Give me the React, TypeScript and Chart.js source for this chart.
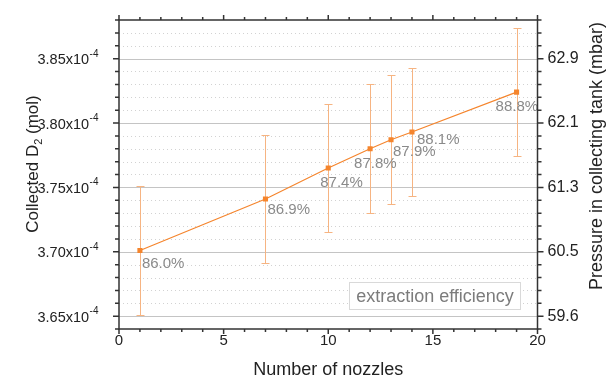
import React, { useEffect, useRef } from 'react';
import { Chart, registerables } from 'chart.js';

Chart.register(...registerables);

// ---------- data ----------
const nozzles = [1, 7, 10, 12, 13, 14, 19];
const collectedD2 = [3.701e-4, 3.741e-4, 3.765e-4, 3.78e-4, 3.787e-4, 3.793e-4, 3.824e-4];
const collectedErr = [5e-6, 5e-6, 5e-6, 5e-6, 5e-6, 5e-6, 5e-6];
const efficiency = ['86.0%', '86.9%', '87.4%', '87.8%', '87.9%', '88.1%', '88.8%'];

// ---------- axes ----------
const xTicks = [0, 5, 10, 15, 20];
const yTicks = [3.65e-4, 3.7e-4, 3.75e-4, 3.8e-4, 3.85e-4];
const yTickMantissa = ['3.65', '3.70', '3.75', '3.80', '3.85'];
const yTickExponent = '-4';
const pressureTicks = ['59.6', '60.5', '61.3', '62.1', '62.9'];
const X_MIN = 0;
const X_MAX = 20;
const Y_MIN = 3.64e-4;
const Y_MAX = 3.88e-4;
const X_MINOR = 1;
const Y_MINOR = 1e-6;

// label offsets (style only)
const labelOffsets: [number, number][] = [
  [2, 13], [2, 11], [-8, 15], [-16, 15], [2, 12], [5, 8], [-21, 15],
];

const FONT = '"Liberation Sans", Arial, sans-serif';
const ORANGE = '#f5852d';
const ERR_COLOR = '#f6b482';

const decorPlugin = {
  id: 'decor',
  beforeDatasetsDraw(chart: any) {
    const { ctx, chartArea: a, scales } = chart;
    const y = scales.y;
    const x = scales.x;
    ctx.save();
    // grid lines
    const nY = Math.round((Y_MAX - Y_MIN) / Y_MINOR);
    for (let i = 1; i < nY; i++) {
      const v = Y_MIN + i * Y_MINOR;
      const py = Math.round(y.getPixelForValue(v)) + 0.5;
      const major = yTicks.some((t) => Math.abs(t - v) < Y_MINOR / 10);
      ctx.beginPath();
      if (major) {
        ctx.setLineDash([]);
        ctx.strokeStyle = '#c4c4c4';
        ctx.lineWidth = 1;
      } else {
        ctx.setLineDash([1, 3]);
        ctx.strokeStyle = '#d2d2d2';
        ctx.lineWidth = 1;
      }
      ctx.moveTo(a.left, py);
      ctx.lineTo(a.right, py);
      ctx.stroke();
    }
    ctx.setLineDash([]);
    // error bars
    ctx.strokeStyle = ERR_COLOR;
    ctx.lineWidth = 1;
    nozzles.forEach((n, i) => {
      const px = Math.round(x.getPixelForValue(n)) + 0.5;
      const top = Math.round(y.getPixelForValue(collectedD2[i] + collectedErr[i])) + 0.5;
      const bot = Math.round(y.getPixelForValue(collectedD2[i] - collectedErr[i])) + 0.5;
      ctx.beginPath();
      ctx.moveTo(px, top);
      ctx.lineTo(px, bot);
      ctx.moveTo(px - 4, top);
      ctx.lineTo(px + 4, top);
      ctx.moveTo(px - 4, bot);
      ctx.lineTo(px + 4, bot);
      ctx.stroke();
    });
    ctx.restore();
  },
  afterDatasetsDraw(chart: any) {
    const { ctx, chartArea: a, scales } = chart;
    const y = scales.y;
    const x = scales.x;
    ctx.save();
    // data labels
    ctx.font = `15px ${FONT}`;
    ctx.fillStyle = '#8a8a8a';
    ctx.textAlign = 'left';
    ctx.textBaseline = 'middle';
    nozzles.forEach((n, i) => {
      const px = x.getPixelForValue(n);
      const py = y.getPixelForValue(collectedD2[i]);
      ctx.fillText(efficiency[i], px + labelOffsets[i][0], py + labelOffsets[i][1]);
    });

    // legend box
    const lw = 171;
    const lh = 27;
    const lx = Math.round(a.right - 18 - lw) + 0.5;
    const ly = Math.round(a.bottom - 20 - lh) + 0.5;
    ctx.fillStyle = '#ffffff';
    ctx.fillRect(lx, ly, lw, lh);
    ctx.strokeStyle = '#d9d9d9';
    ctx.lineWidth = 1;
    ctx.strokeRect(lx, ly, lw, lh);
    ctx.font = `18px ${FONT}`;
    ctx.fillStyle = '#7c7c7c';
    ctx.textAlign = 'center';
    ctx.textBaseline = 'middle';
    ctx.fillText('extraction efficiency', lx + lw / 2, ly + lh / 2 + 1);

    // frame
    ctx.strokeStyle = '#333333';
    ctx.lineWidth = 1.5;
    ctx.strokeRect(a.left, a.top, a.right - a.left, a.bottom - a.top);
    // x ticks (bottom & top)
    ctx.beginPath();
    const nX = Math.round((X_MAX - X_MIN) / X_MINOR);
    for (let i = 0; i <= nX; i++) {
      const v = X_MIN + i * X_MINOR;
      const px = x.getPixelForValue(v);
      const major = xTicks.includes(v);
      const len = major ? 5 : 3;
      ctx.moveTo(px, a.bottom);
      ctx.lineTo(px, a.bottom + len);
      ctx.moveTo(px, a.top);
      ctx.lineTo(px, a.top - len);
    }
    const nY = Math.round((Y_MAX - Y_MIN) / Y_MINOR);
    for (let i = 0; i <= nY; i++) {
      const v = Y_MIN + i * Y_MINOR;
      const py = y.getPixelForValue(v);
      const major = yTicks.some((t) => Math.abs(t - v) < Y_MINOR / 10);
      const len = major ? 6 : 4;
      ctx.moveTo(a.left, py);
      ctx.lineTo(a.left - len, py);
      ctx.moveTo(a.right, py);
      ctx.lineTo(a.right + len, py);
    }
    ctx.stroke();

    // left tick labels with superscript exponent
    ctx.fillStyle = '#222222';
    ctx.textAlign = 'left';
    ctx.textBaseline = 'alphabetic';
    yTicks.forEach((t, i) => {
      const py = y.getPixelForValue(t);
      const main = `${yTickMantissa[i]}x10`;
      ctx.font = `14.5px ${FONT}`;
      const w1 = ctx.measureText(main).width;
      ctx.font = `10px ${FONT}`;
      const w2 = ctx.measureText(yTickExponent).width;
      const right = a.left - 21;
      const sx = right - w2 - w1;
      ctx.font = `14.5px ${FONT}`;
      ctx.fillText(main, sx, py + 5.5);
      ctx.font = `10px ${FONT}`;
      ctx.fillText(yTickExponent, sx + w1 + 0.5, py - 2);
    });

    // left title
    ctx.save();
    ctx.translate(33.5, 164);
    ctx.rotate(-Math.PI / 2);
    ctx.fillStyle = '#222222';
    ctx.textBaseline = 'middle';
    ctx.textAlign = 'left';
    const p1 = 'Collected D';
    const p2 = '2';
    const p3 = ' (mol)';
    ctx.font = `17px ${FONT}`;
    const tw1 = ctx.measureText(p1).width;
    const tw3 = ctx.measureText(p3).width;
    ctx.font = `11px ${FONT}`;
    const tw2 = ctx.measureText(p2).width;
    const total = tw1 + tw2 + tw3;
    let cx = -total / 2;
    ctx.font = `17px ${FONT}`;
    ctx.fillText(p1, cx, 0);
    cx += tw1;
    ctx.font = `11px ${FONT}`;
    ctx.fillText(p2, cx, 5);
    cx += tw2;
    ctx.font = `17px ${FONT}`;
    ctx.fillText(p3, cx, 0);
    ctx.restore();

    // right title
    ctx.save();
    ctx.translate(597.5, 156);
    ctx.rotate(-Math.PI / 2);
    ctx.fillStyle = '#222222';
    ctx.textBaseline = 'middle';
    ctx.textAlign = 'center';
    ctx.font = `18px ${FONT}`;
    ctx.fillText('Pressure in collecting tank (mbar)', 0, 0);
    ctx.restore();

    ctx.restore();
  },
};

export default function App() {
  const ref = useRef<HTMLCanvasElement | null>(null);

  useEffect(() => {
    if (!ref.current) return;
    const chart = new Chart(ref.current, {
      type: 'line',
      data: {
        datasets: [
          {
            label: 'extraction efficiency',
            data: nozzles.map((n, i) => ({ x: n, y: collectedD2[i] })),
            borderColor: ORANGE,
            borderWidth: 1.2,
            pointStyle: 'rect',
            pointRadius: 3.6,
            pointBackgroundColor: ORANGE,
            pointBorderColor: ORANGE,
            pointBorderWidth: 0,
            tension: 0,
            fill: false,
            xAxisID: 'x',
            yAxisID: 'y',
          },
        ],
      },
      options: {
        responsive: false,
        animation: false,
        events: [],
        layout: { padding: { top: 20, left: 0, right: 0, bottom: 0 } },
        plugins: {
          legend: { display: false },
          tooltip: { enabled: false },
        },
        scales: {
          x: {
            type: 'linear',
            position: 'bottom',
            min: X_MIN,
            max: X_MAX,
            grid: { display: false, drawTicks: false },
            border: { display: false },
            ticks: {
              font: { family: FONT, size: 15 },
              color: '#222222',
              padding: 3,
              maxRotation: 0,
              autoSkip: false,
            },
            afterBuildTicks: (s: any) => {
              s.ticks = xTicks.map((v) => ({ value: v }));
            },
            afterFit: (s: any) => {
              s.height = 51;
            },
            title: {
              display: true,
              text: 'Number of nozzles',
              font: { family: FONT, size: 18 },
              color: '#222222',
              padding: { top: 0, bottom: -1 },
            },
          },
          y: {
            type: 'linear',
            position: 'left',
            min: Y_MIN,
            max: Y_MAX,
            grid: { display: false, drawTicks: false },
            border: { display: false },
            ticks: { display: false },
            afterFit: (s: any) => {
              s.width = 119;
            },
          },
          y2: {
            type: 'linear',
            position: 'right',
            min: Y_MIN,
            max: Y_MAX,
            grid: { display: false, drawTicks: false },
            border: { display: false },
            ticks: {
              font: { family: FONT, size: 16 },
              color: '#222222',
              padding: 10,
              callback: (_v: any, i: number) => pressureTicks[i],
            },
            afterBuildTicks: (s: any) => {
              s.ticks = yTicks.map((v) => ({ value: v }));
            },
            afterFit: (s: any) => {
              s.width = 68.5;
            },
          },
        },
      } as any,
      plugins: [decorPlugin],
    });
    return () => chart.destroy();
  }, []);

  return (
    <div style={{ position: 'fixed', left: 0, top: 0, width: 606, height: 380, background: '#fff' }}>
      <canvas ref={ref} width={606} height={380} style={{ width: 606, height: 380, display: 'block' }} />
    </div>
  );
}
